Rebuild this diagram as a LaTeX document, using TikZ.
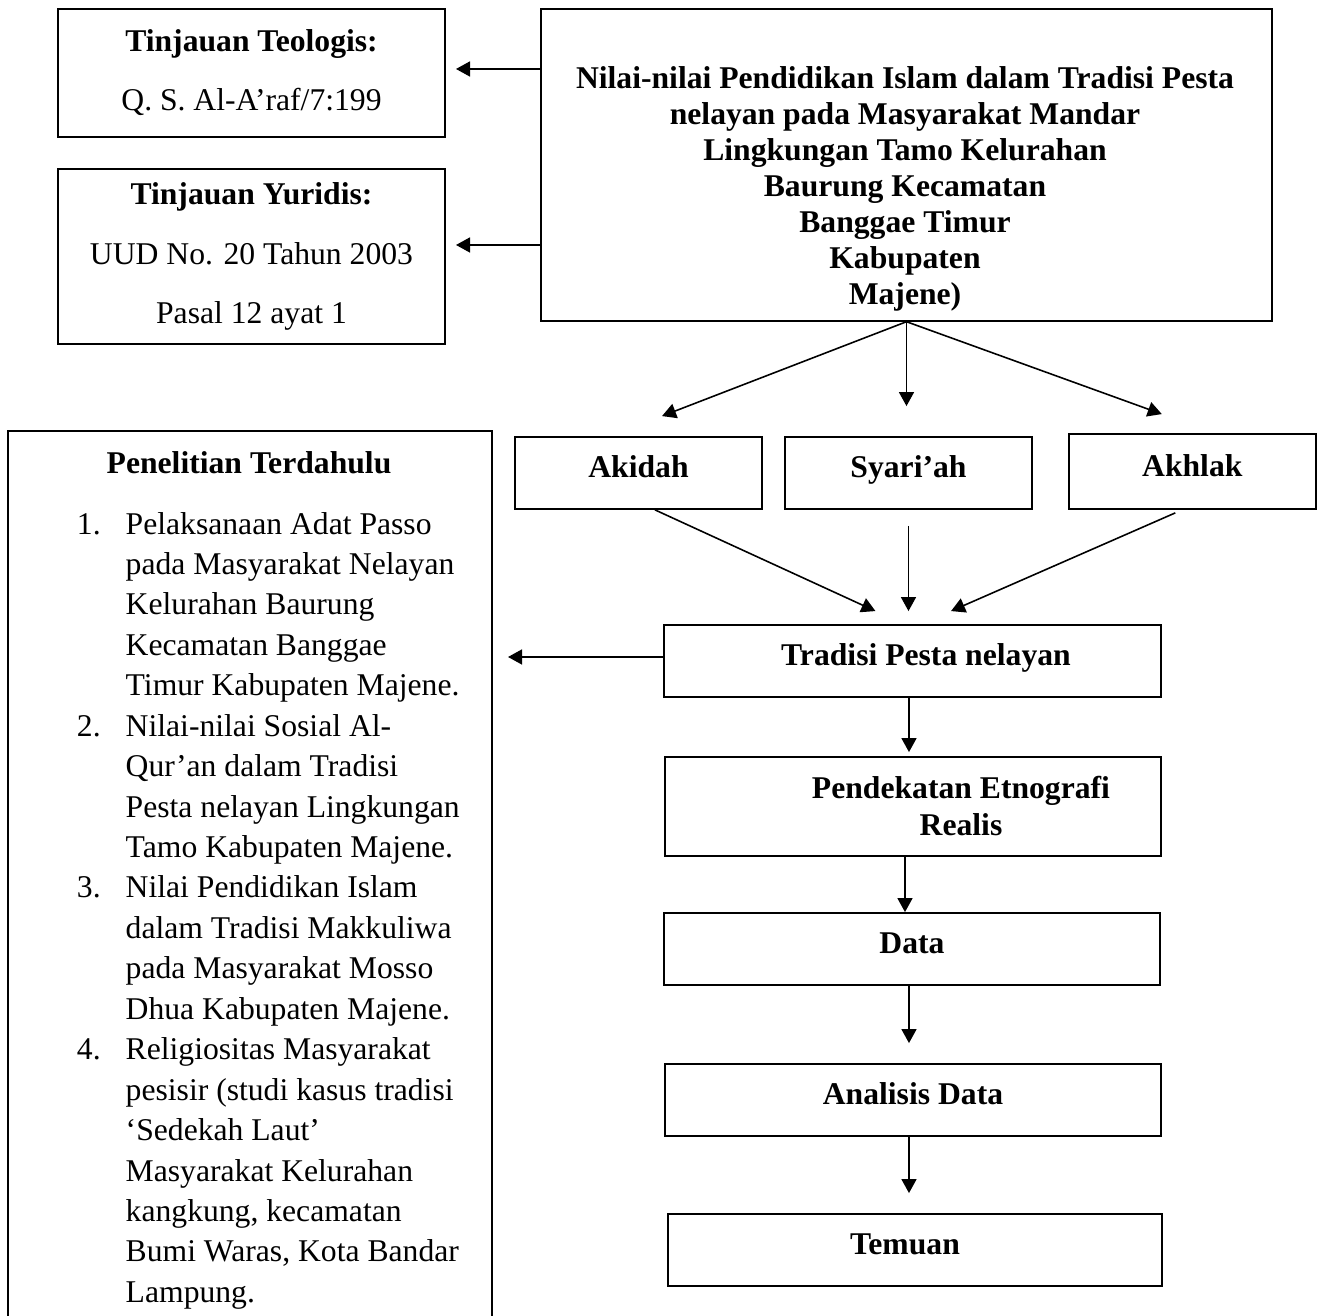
\documentclass[tikz,border=0pt]{standalone}
\usepackage{fontspec}
\setmainfont{Liberation Serif}
\usetikzlibrary{arrows.meta}

\begin{document}
\begin{tikzpicture}[x=0.01cm, y=-0.01cm,
    kotak/.style={draw, line width=0.5pt, inner sep=0pt},
    judul/.style={font=\bfseries\fontsize{9}{10.4}\selectfont, text height=0.7em, text depth=0.42em},
    panah/.style={line width=0.45pt, -{Triangle[length=0.14cm, width=0.15cm]}}]
  \useasboundingbox (0,0) rectangle (1317,1316);

  % tinjauan
  \node[kotak, minimum width=3.87cm, minimum height=1.275cm, align=center,
    font=\fontsize{9}{16.8}\selectfont] (teo) at (251.5,73)
    {\textbf{Tinjauan Teologis:}\\Q. S. Al-A’raf/7:199};
  \node[kotak, minimum width=3.87cm, minimum height=1.75cm, align=center,
    font=\fontsize{9}{16.8}\selectfont] (yur) at (251.5,256.5)
    {\textbf{Tinjauan Yuridis:}\\UUD No. 20 Tahun 2003\\Pasal 12 ayat 1};

  % judul penelitian
  \node[kotak, minimum width=7.31cm, minimum height=3.115cm] (nilai) at (906.5,165) {};
  \node[align=center, font=\bfseries\fontsize{9}{10.2}\selectfont] (nilaitxt) at (905,189)
    {Nilai-nilai Pendidikan Islam dalam Tradisi Pesta\\nelayan pada Masyarakat Mandar\\
     Lingkungan Tamo Kelurahan\\Baurung Kecamatan\\Banggae Timur\\Kabupaten\\Majene)};

  \draw[panah] ([yshift=0.04cm]nilai.west |- teo.east) -- ([xshift=0.1cm,yshift=0.04cm]teo.east);
  \draw[panah] ([yshift=0.115cm]nilai.west |- yur.east) -- ([xshift=0.1cm,yshift=0.115cm]yur.east);

  % nilai
  \node[kotak, judul, minimum width=2.47cm, minimum height=0.72cm] (akidah) at (638.5,473) {Akidah};
  \node[kotak, judul, minimum width=2.47cm, minimum height=0.72cm] (syariah) at (908.5,473) {Syari’ah};
  \node[kotak, judul, minimum width=2.465cm, minimum height=0.75cm] (akhlak) at (1192.3,471.5) {Akhlak};

  \draw[panah] (nilai.south) -- ([xshift=0.235cm,yshift=0.2cm]akidah.north);
  \draw[panah] (nilai.south) -- ([yshift=0.3cm]syariah.north -| nilai.south);
  \draw[panah] (nilai.south) -- ([xshift=-0.305cm,yshift=0.19cm]akhlak.north);

  % alur
  \node[kotak, minimum width=4.97cm, minimum height=0.72cm] (tradisi) at (912.5,661) {};
  \node[judul] (tradtxt) at (926,661) {Tradisi Pesta nelayan};
  \node[kotak, minimum width=4.96cm, minimum height=0.99cm] (pendekatan) at (913,806.5) {};
  \node[align=center, font=\bfseries\fontsize{9}{10.5}\selectfont] (pendtxt) at (961,806)
    {Pendekatan Etnografi\\Realis};
  \node[kotak, judul, minimum width=4.96cm, minimum height=0.72cm] (data) at (912,949) {Data};
  \node[kotak, judul, minimum width=4.96cm, minimum height=0.72cm] (analisis) at (913,1100) {Analisis Data};
  \node[kotak, minimum width=4.94cm, minimum height=0.72cm] (temuan) at (915,1250) {};
  \node[judul] (temtxt) at (905,1250) {Temuan};

  \draw[panah] ([xshift=0.165cm]akidah.south) -- ([xshift=-0.37cm,yshift=0.13cm]tradisi.north);
  \draw[panah] ([yshift=-0.16cm]syariah.south) -- ([yshift=0.13cm]tradisi.north -| syariah.south);
  \draw[panah] ([xshift=-0.17cm,yshift=-0.03cm]akhlak.south) -- ([xshift=0.385cm,yshift=0.13cm]tradisi.north);

  \draw[panah] ([xshift=-0.035cm]tradisi.south) -- ([xshift=-0.035cm,yshift=0.04cm]tradisi.south |- pendekatan.north);
  \draw[panah] ([xshift=-0.08cm]pendekatan.south) -- ([xshift=-0.08cm]pendekatan.south |- data.north);
  \draw[panah] ([xshift=-0.03cm]data.south) -- ([xshift=-0.03cm,yshift=0.2cm]data.south |- analisis.north);
  \draw[panah] ([xshift=-0.04cm]analisis.south) -- ([xshift=-0.04cm,yshift=0.2cm]analisis.south |- temuan.north);

  % penelitian terdahulu
  \node[kotak, minimum width=4.84cm, minimum height=8.99cm] (penelitian) at (250,880.5) {};
  \node[font=\bfseries\fontsize{9}{11.5}\selectfont] (penjudul) at (249,463) {Penelitian Terdahulu};
  \node[anchor=north west, inner sep=0pt, font=\fontsize{9}{11.5}\selectfont] (penlist) at (70,505)
    {\begin{tabular}{@{}l@{\hspace{0.25cm}}l@{}}
      \makebox[0.3cm][r]{1.} & Pelaksanaan Adat Passo\\
       & pada Masyarakat Nelayan\\
       & Kelurahan Baurung\\
       & Kecamatan Banggae\\
       & Timur Kabupaten Majene.\\
      \makebox[0.3cm][r]{2.} & Nilai-nilai Sosial Al-\\
       & Qur’an dalam Tradisi\\
       & Pesta nelayan Lingkungan\\
       & Tamo Kabupaten Majene.\\
      \makebox[0.3cm][r]{3.} & Nilai Pendidikan Islam\\
       & dalam Tradisi Makkuliwa\\
       & pada Masyarakat Mosso\\
       & Dhua Kabupaten Majene.\\
      \makebox[0.3cm][r]{4.} & Religiositas Masyarakat\\
       & pesisir (studi kasus tradisi\\
       & ‘Sedekah Laut’\\
       & Masyarakat Kelurahan\\
       & kangkung, kecamatan\\
       & Bumi Waras, Kota Bandar\\
       & Lampung.
    \end{tabular}};

  \coordinate (tradkiri) at ([yshift=0.04cm]tradisi.west);
  \draw[panah] (tradkiri) -- ([xshift=0.15cm]penelitian.east |- tradkiri);
\end{tikzpicture}
\end{document}
